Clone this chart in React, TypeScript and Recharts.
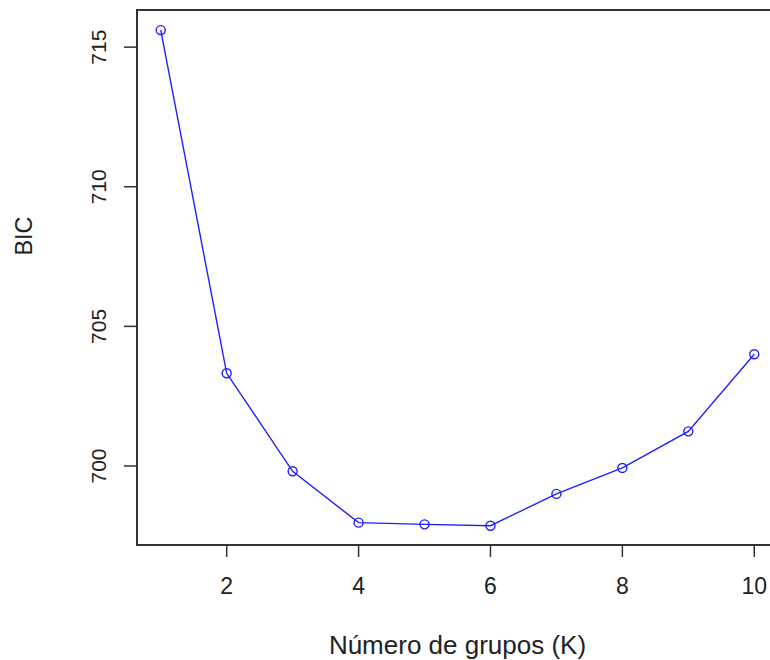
import { LineChart, Line, XAxis, YAxis, ReferenceArea, Label } from 'recharts';

// K values and BIC
const groups = [1, 2, 3, 4, 5, 6, 7, 8, 9, 10];
const bicValues = [715.61, 703.32, 699.81, 697.97, 697.91, 697.86, 699.0, 699.93, 701.24, 704.0];
const xTicks = [2, 4, 6, 8, 10];
const yTicks = [700, 705, 710, 715];

const X_DOMAIN: [number, number] = [0.64, 10.36];
const Y_DOMAIN: [number, number] = [697.17, 716.33];

const FONT = '"Liberation Sans", Arial, sans-serif';
const INK = '#222';
const AXIS = '#333';

const data = groups.map((k, i) => ({ k, bic: bicValues[i] }));

const XTick = ({ x, y, payload }: any) => (
  <text x={x} y={y + 37} textAnchor="middle" fontSize={23} fill={INK} fontFamily={FONT}>
    {payload.value}
  </text>
);

const YTick = ({ x, y, payload }: any) => {
  const tx = x - 18;
  return (
    <text
      x={tx}
      y={y}
      textAnchor="middle"
      fontSize={21}
      fill={INK}
      fontFamily={FONT}
      transform={`rotate(-90, ${tx}, ${y})`}
    >
      {payload.value}
    </text>
  );
};

const YTitle = ({ viewBox }: any) => {
  const tx = viewBox.x + 32;
  const ty = viewBox.y + 226;
  return (
    <text
      x={tx}
      y={ty}
      textAnchor="middle"
      fontSize={23.5}
      fill={INK}
      fontFamily={FONT}
      transform={`rotate(-90, ${tx}, ${ty})`}
    >
      BIC
    </text>
  );
};

const XTitle = ({ viewBox }: any) => (
  <text
    x={viewBox.x + viewBox.width / 2}
    y={viewBox.y + 109}
    textAnchor="middle"
    fontSize={26}
    fill={INK}
    fontFamily={FONT}
  >
    Número de grupos (K)
  </text>
);

export default function App() {
  return (
    <div
      style={{
        position: 'absolute',
        left: 0,
        top: 0,
        width: 770,
        height: 660,
        overflow: 'hidden',
        background: '#fff',
      }}
    >
      <LineChart
        width={800}
        height={660}
        data={data}
        margin={{ top: 10, right: 22, bottom: 0, left: 0 }}
      >
        <XAxis
          type="number"
          dataKey="k"
          domain={X_DOMAIN}
          ticks={xTicks}
          allowDataOverflow
          axisLine={false}
          tickLine={{ stroke: AXIS, strokeWidth: 1.5 }}
          tickSize={12}
          tickMargin={0}
          height={115}
          tick={<XTick />}
        >
          <Label content={<XTitle />} />
        </XAxis>
        <YAxis
          type="number"
          domain={Y_DOMAIN}
          ticks={yTicks}
          allowDataOverflow
          axisLine={false}
          tickLine={{ stroke: AXIS, strokeWidth: 1.5 }}
          tickSize={13}
          tickMargin={0}
          width={137}
          tick={<YTick />}
        >
          <Label content={<YTitle />} />
        </YAxis>
        <ReferenceArea
          x1={X_DOMAIN[0]}
          x2={X_DOMAIN[1]}
          y1={Y_DOMAIN[0]}
          y2={Y_DOMAIN[1]}
          fill="none"
          stroke={AXIS}
          strokeWidth={2}
          ifOverflow="visible"
        />
        <Line
          type="linear"
          dataKey="bic"
          stroke="#2020ff"
          strokeWidth={1.4}
          dot={{ r: 4.5, stroke: '#2020ff', strokeWidth: 1.4, fill: 'none' }}
          activeDot={false}
          isAnimationActive={false}
        />
      </LineChart>
    </div>
  );
}
